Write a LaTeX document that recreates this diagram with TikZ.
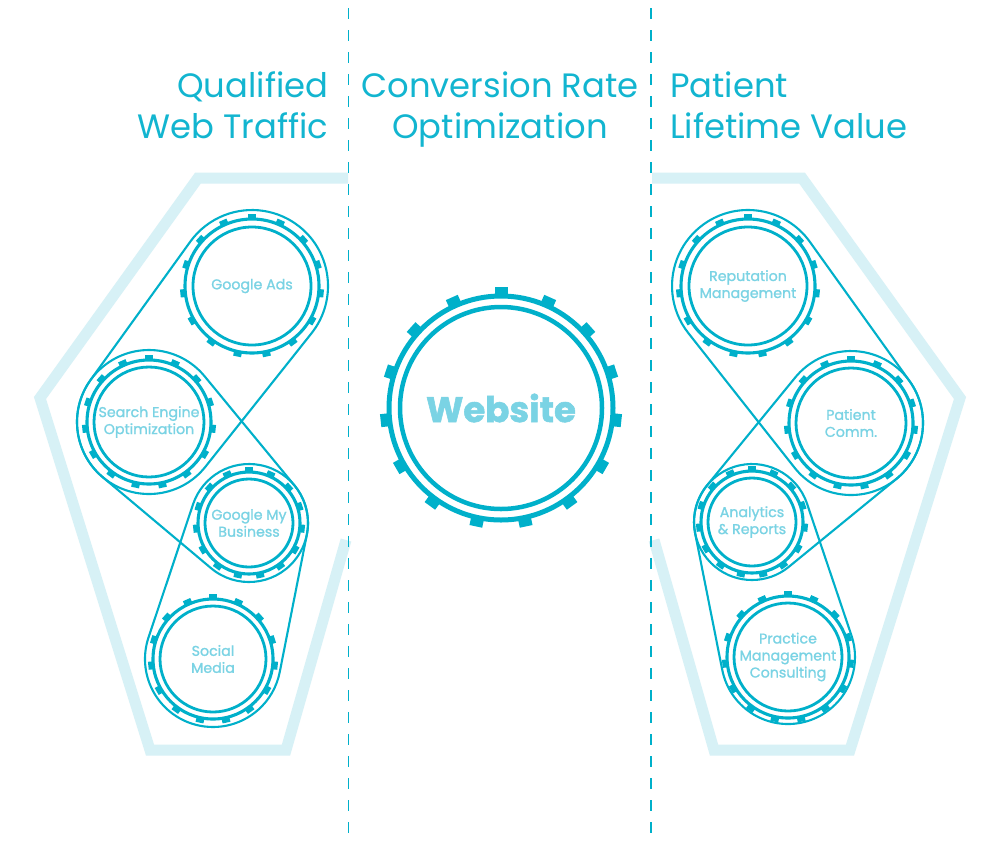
\documentclass[tikz,border=0pt]{standalone}
\usepackage{fontspec}
\setmainfont{Poppins}
\newfontfamily\labfont{Poppins}[FakeBold=1.2]
\newfontfamily\webfont{Poppins}[FakeBold=1.5]
\usetikzlibrary{calc}
\definecolor{gearc}{RGB}{0,176,202}
\definecolor{titlec}{RGB}{18,181,208}
\definecolor{labelc}{RGB}{122,211,228}
\definecolor{bandc}{RGB}{215,241,246}
\tikzset{
  band/.style={draw=bandc, line width=11, line join=miter},
  divider/.style={draw=gearc, line width=1.4, dash pattern=on 11 off 11},
  title/.style={text=titlec, font=\fontsize{33.8}{41}\selectfont, inner sep=0},
  glabel/.style={text=labelc, font=\labfont\fontsize{14.2}{17}\selectfont, align=center, inner sep=0},
  gearbody/.style={circle, draw=gearc, line width=2.8, inner sep=0, glabel},
  ring/.style={draw=gearc, line width=3.1},
  tooth/.style={draw=gearc, line width=8},
  belt/.style={draw=gearc, line width=2.1},
}
\newcommand\mkgear[5]{%
  \node[gearbody, minimum size=2*#3] (#1) at (#2) {#5};
  \draw[ring] (#1.center) circle[radius=#4];
  \foreach \k in {0,...,14}{\draw[tooth] ($(#1.center)+(90+24*\k:#4-1)$) -- ($(#1.center)+(90+24*\k:#4+5)$);}
}
\newcommand\mkbelt[4]{%
  \draw[belt] let \p1=(#1.center), \p2=(#3.center),
    \n1={atan2(\y2-\y1,\x2-\x1)}, \n2={veclen(\x2-\x1,\y2-\y1)}, \n3={acos((#2-#4)/\n2)} in
    ($(#1.center)+(\n1+\n3:#2)$) arc[start angle=\n1+\n3, end angle=\n1+360-\n3, radius=#2]
    -- ($(#3.center)+(\n1-\n3:#4)$) arc[start angle=\n1-\n3, end angle=\n1+\n3, radius=#4] -- cycle;
}
\begin{document}
\begin{tikzpicture}[x=1pt,y=1pt]
\useasboundingbox[fill=white] (0,0) rectangle (1000,-847);
% hexagon bands
\draw[band] (348,-178) -- (198,-178) -- (40,-398) -- (150,-750) -- (286,-750) -- (346,-540);
\draw[band] (652,-178) -- (802,-178) -- (960,-398) -- (850,-750) -- (714,-750) -- (654,-540);
% dividers
\coordinate (d1t) at (348.5,-8); \coordinate (d1b) at (348.5,-836);
\coordinate (d2t) at (651,-8); \coordinate (d2b) at (651,-836);
\draw[divider] (d1t) -- (d1b);
\draw[divider] (d2t) -- (d2b);
% titles
\node[title, anchor=base east] (t1a) at (328.5,-97) {Qualified};
\node[title, anchor=base east] (t1b) at (328.5,-138) {Web Traffic};
\node[title, anchor=base] (t2a) at (500,-97) {Conversion Rate};
\node[title, anchor=base] (t2b) at (500,-138) {Optimization};
\node[title, anchor=base west] (t3a) at (670,-97) {Patient};
\node[title, anchor=base west] (t3b) at (670,-138) {Lifetime Value};
% left gears
\mkgear{ga}{252,-286}{59}{67}{Google Ads}
\mkgear{seo}{149,-422}{55}{62}{Search Engine\\Optimization}
\mkgear{gmb}{249,-523}{44}{51}{Google My\\Business}
\mkgear{sm}{213,-659}{53}{60}{Social\\Media}
% right gears
\mkgear{rm}{748,-286}{59}{67}{Reputation\\Management}
\mkgear{pc}{851,-423}{55}{62}{Patient\\Comm.}
\mkgear{ar}{752,-522}{44}{51}{Analytics\\\& Reports}
\mkgear{pmc}{788,-657}{54}{61}{Practice\\Management\\Consulting}
% belts
\mkbelt{ga}{76}{seo}{72}
\mkbelt{seo}{72}{gmb}{59}
\mkbelt{gmb}{59}{sm}{68}
\mkbelt{rm}{76}{pc}{72}
\mkbelt{pc}{72}{ar}{58}
\mkbelt{ar}{58}{pmc}{67}
% website
\node[circle, draw=gearc, line width=4.5, minimum size=202, inner sep=0, text=labelc, font=\webfont\bfseries\fontsize{35.5}{40}\selectfont] (web) at (501,-408) {Website};
\draw[draw=gearc, line width=5] (web.center) circle[radius=112];
\foreach \k in {0,...,14}{\draw[draw=gearc, line width=13] ($(web.center)+(90+24*\k:111)$) -- ($(web.center)+(90+24*\k:121)$);}
\end{tikzpicture}
\end{document}
